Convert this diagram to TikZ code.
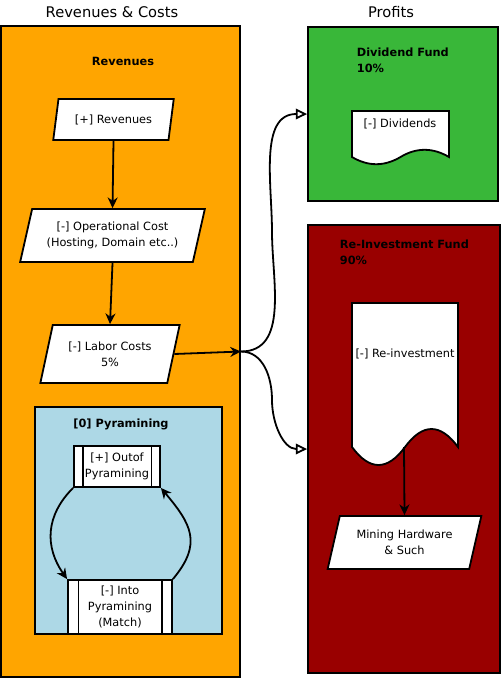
\documentclass[tikz,border=0pt]{standalone}
\usepackage{fontspec}
\setmainfont{DejaVu Sans}
\usetikzlibrary{arrows.meta,shapes.geometric,calc}
\definecolor{revorange}{HTML}{FFA500}
\definecolor{pyrblue}{HTML}{ADD8E6}
\definecolor{divgreen}{HTML}{39B739}
\definecolor{reired}{HTML}{990000}

\begin{document}
\begin{tikzpicture}[x=0.75pt,y=0.75pt,>={Stealth[length=8pt,width=7.5pt]},line width=1.35pt,
  every node/.style={font=\fontsize{8.5}{12}\selectfont},
  frame/.style={draw,inner sep=0pt},
  para/.style={trapezium,trapezium left angle=70,trapezium right angle=110,trapezium stretches=true,
    draw,fill=white,align=center,inner sep=0pt},
  procbox/.style={draw,fill=white,align=center,inner sep=0pt,path picture={
    \draw ($(path picture bounding box.north west)!0.1!(path picture bounding box.north east)$)
      -- ($(path picture bounding box.south west)!0.1!(path picture bounding box.south east)$);
    \draw ($(path picture bounding box.north east)!0.1!(path picture bounding box.north west)$)
      -- ($(path picture bounding box.south east)!0.1!(path picture bounding box.south west)$);}},
  opentip/.style={-{Triangle[open,length=8.5pt,width=8pt]}},
  btitle/.style={font=\fontsize{8.5}{12}\selectfont\bfseries}]
  \useasboundingbox (0,0) rectangle (502,-679);

  \node[frame,fill=revorange,minimum width=179.25pt,minimum height=488.25pt] (revbox) at (120.5,-351.5) {};
  \node[frame,fill=pyrblue,minimum width=140.25pt,minimum height=170.25pt] (pyrbox) at (128.5,-520.5) {};
  \node[frame,fill=divgreen,minimum width=142.5pt,minimum height=130.5pt] (divfund) at (403,-114) {};
  \node[frame,fill=reired,minimum width=144pt,minimum height=336pt] (refund) at (404,-449) {};

  \node (lefthead) at (112,-12) {\fontsize{11}{13}\selectfont Revenues \& Costs};
  \node (righthead) at (391,-12) {\fontsize{11}{13}\selectfont Profits};
  \node[btitle] (revhead) at (123,-61) {Revenues};
  \node[btitle] (pyrhead) at (121,-424) {[0] Pyramining};
  \node[btitle,align=left,anchor=north west,inner sep=0pt] (divhead) at (356,-47) {Dividend Fund\\10\%};
  \node[btitle,align=left,anchor=north west,inner sep=0pt] (reihead) at (339,-239) {Re-Investment Fund\\90\%};

  \node[para,minimum width=90.75pt,minimum height=30.75pt] (rev) at (113.5,-119.5) {[+] Revenues};
  \node[para,minimum width=138.75pt,minimum height=39.75pt] (opcost) at (112.5,-235.5) {[-] Operational Cost\\(Hosting, Domain etc..)};
  \node[para,minimum width=105pt,minimum height=43.5pt] (labor) at (110,-354) {[-] Labor Costs\\5\%};
  \node[para,minimum width=116.25pt,minimum height=39.75pt] (mining) at (404.5,-542.5) {Mining Hardware\\\& Such};

  \node[procbox,minimum width=64.5pt,minimum height=30.75pt] (outof) at (117,-466.5) {[+] Outof\\Pyramining};
  \node[procbox,minimum width=78pt,minimum height=40.5pt] (into) at (120,-607) {[-] Into\\Pyramining\\(Match)};

  \draw[fill=white] (352,-111) -- (449,-111) -- (449,-157) .. controls (432.8,-147.4) and (416.3,-147.4) .. (400.5,-157)
    .. controls (384.3,-166.6) and (368.2,-166.6) .. (352,-157) -- cycle;
  \node (divdoc) at (400,-124) {[-] Dividends};
  \draw[fill=white] (352,-303) -- (458,-303) -- (458,-447) .. controls (440.3,-423) and (422.7,-423) .. (405,-447)
    .. controls (387.3,-471) and (369.7,-471) .. (352,-447) -- cycle;
  \node (reidoc) at (405,-354) {[-] Re-investment};
  \coordinate (reibottom) at (404,-447);

  \draw[->] (rev.south) -- (opcost.north);
  \draw[->] (opcost.south) -- (labor.north);
  \draw[->] (labor.east) -- (revbox.east);
  \draw[->] (reibottom) -- (mining.north);
  \draw[->] (outof.south west) to[out=225,in=125,looseness=1.1] (into.north west);
  \draw[->] (into.north east) to[out=50,in=-50,looseness=1.3] (outof.south east);

  \coordinate (upbend) at (272,-232);
  \coordinate (downbend) at (272,-400);
  \draw[opentip] (revbox.east) to[out=0,in=-90] (upbend) to[out=90,in=180] (divfund.west);
  \draw[opentip] (revbox.east) to[out=0,in=90] (downbend) to[out=-90,in=180] (refund.west);
\end{tikzpicture}
\end{document}
